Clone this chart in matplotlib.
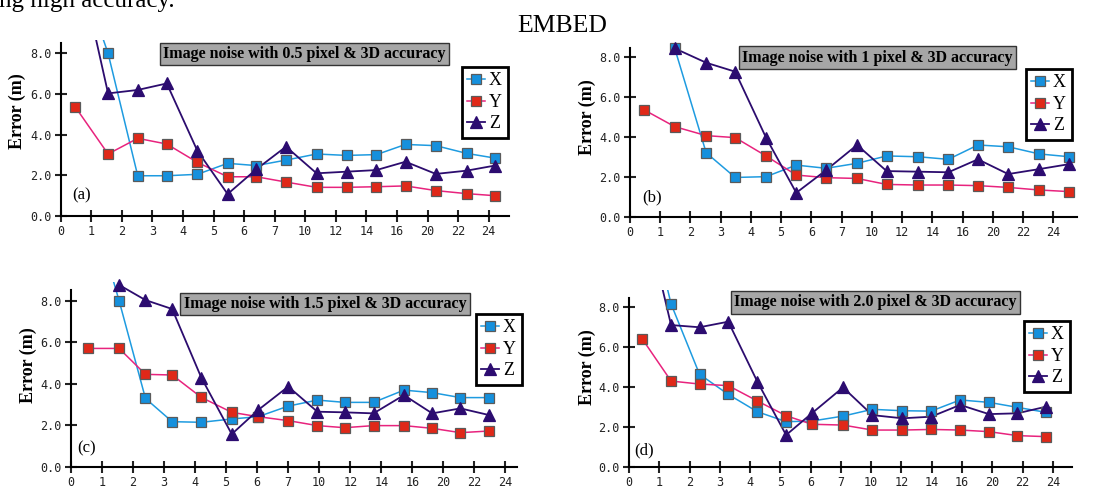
import numpy as np
import matplotlib

matplotlib.use("Agg")
import matplotlib.pyplot as plt
from matplotlib.lines import Line2D


W, H = 1111, 488
SERIF = "Liberation Serif"
MONO = "DejaVu Sans Mono"

nan = np.nan

X_LABELS = ["0", "1", "2", "3", "4", "5", "6", "7", "10", "12", "14", "16", "20", "22", "24"]
Y_TICKS = [0, 2, 4, 6, 8]
SERIES = ["X", "Y", "Z"]

# (a) 0.5 pixel
POS_A = [0.47, 1.55, 2.52, 3.47, 4.47, 5.46, 6.4, 7.37, 8.37, 9.35, 10.33, 11.28, 12.27, 13.28, 14.2]
X_A = [12.7, 8.0, 1.98, 1.98, 2.05, 2.59, 2.48, 2.75, 3.05, 2.98, 3.02, 3.52, 3.46, 3.08, 2.85]
Y_A = [5.38, 3.05, 3.82, 3.54, 2.64, 1.93, 1.93, 1.67, 1.41, 1.41, 1.44, 1.48, 1.25, 1.10, 1.00]
Z_A = [13.3, 6.03, 6.2, 6.52, 3.21, 1.08, 2.30, 3.41, 2.10, 2.18, 2.26, 2.67, 2.07, 2.23, 2.48]

# (b) 1 pixel
POS_B = [0.47, 1.48, 2.52, 3.48, 4.5, 5.5, 6.49, 7.51, 8.49, 9.53, 10.53, 11.51, 12.51, 13.54, 14.53]
X_B = [nan, 8.45, 3.21, 1.97, 2.01, 2.59, 2.43, 2.68, 3.05, 3.01, 2.88, 3.60, 3.51, 3.15, 3.01]
Y_B = [5.36, 4.52, 4.07, 3.97, 3.05, 2.09, 1.96, 1.92, 1.62, 1.59, 1.59, 1.56, 1.47, 1.34, 1.26]
Z_B = [nan, 8.45, 7.73, 7.28, 3.97, 1.20, 2.34, 3.60, 2.29, 2.26, 2.23, 2.88, 2.14, 2.39, 2.64]

# (c) 1.5 pixel
POS_C = [0.56, 1.55, 2.4, 3.26, 4.2, 5.18, 6.03, 7.0, 7.94, 8.82, 9.75, 10.73, 11.64, 12.55, 13.47]
X_C = [13.1, 8.0, 3.29, 2.17, 2.14, 2.30, 2.41, 2.92, 3.21, 3.10, 3.10, 3.69, 3.57, 3.33, 3.33]
Y_C = [5.70, 5.70, 4.45, 4.42, 3.34, 2.62, 2.41, 2.22, 1.98, 1.88, 1.98, 1.98, 1.85, 1.64, 1.72]
Z_C = [nan, 8.76, 8.03, 7.60, 4.29, 1.57, 2.73, 3.86, 2.65, 2.62, 2.57, 3.45, 2.57, 2.81, 2.49]

# (d) 2.0 pixel
POS_D = [0.44, 1.39, 2.33, 3.28, 4.24, 5.19, 6.04, 7.07, 8.04, 9.03, 9.98, 10.94, 11.89, 12.83, 13.77]
X_D = [14.2, 8.17, 4.64, 3.63, 2.76, 2.26, 2.29, 2.54, 2.88, 2.81, 2.79, 3.35, 3.23, 2.98, 2.73]
Y_D = [6.41, 4.30, 4.15, 4.07, 3.30, 2.56, 2.13, 2.09, 1.84, 1.84, 1.87, 1.84, 1.76, 1.56, 1.51]
Z_D = [13.2, 7.11, 7.0, 7.28, 4.27, 1.59, 2.68, 3.98, 2.59, 2.43, 2.51, 3.10, 2.64, 2.68, 3.01]

TITLES = [
    "Image noise with 0.5 pixel & 3D accuracy",
    "Image noise with 1 pixel & 3D accuracy",
    "Image noise with 1.5 pixel & 3D accuracy",
    "Image noise with 2.0 pixel & 3D accuracy",
]
LETTERS = ["(a)", "(b)", "(c)", "(d)"]

STYLES = {
    "X": dict(color="#1e9be0", marker="s", mfc="#1590dd", mec="#5a5a5a", ms=6.5, lw=1.1),
    "Y": dict(color="#e8237d", marker="s", mfc="#e02818", mec="#5a5a5a", ms=6.5, lw=1.1),
    "Z": dict(color="#2c0c6e", marker="^", mfc="#2c0c70", mec="#2c0c70", ms=9, lw=1.3),
}

# pixel layout: left, bottom, px per x unit, px per y unit, xmax, clip top, spine top
LAYOUT = [
    dict(geo=(60.7, 216, 30.57, 20.33, 14.65, 8.65, 8.5), title=(304.5, 54), letter=(82, 195),
         ylabel=(17, 111), legend=(462, 67)),
    dict(geo=(630, 216.7, 30.23, 19.92, 14.8, 8.6, 8.47), title=(877.5, 57.5), letter=(652, 197),
         ylabel=(587, 117), legend=(1026, 69)),
    dict(geo=(71, 466.7, 31.03, 20.75, 14.37, 8.9, 8.5), title=(325, 304), letter=(87, 448),
         ylabel=(28, 365), legend=(476, 314)),
    dict(geo=(629, 466.7, 30.27, 19.92, 14.63, 8.87, 8.45), title=(875.5, 302.5), letter=(644, 450),
         ylabel=(587, 367), legend=(1024, 321)),
]


def px(x, y):
    return x / W, 1 - y / H


def draw_panel(fig, layout, pos, data, title, letter):
    left, bottom, sx, sy, xmax, ytop, spine_top = layout["geo"]
    ax = fig.add_axes([left / W, 1 - bottom / H, xmax * sx / W, ytop * sy / H])
    ax.set_xlim(0, xmax)
    ax.set_ylim(0, ytop)
    pos = np.array(pos)
    handles = []
    for name, vals in zip(SERIES, data):
        st = STYLES[name]
        v = np.array(vals, dtype=float)
        ax.plot(pos, v, color=st["color"], lw=st["lw"], zorder=2)
        keep = v <= ytop + 0.3
        ax.plot(pos[keep], v[keep], ls="none", marker=st["marker"], ms=st["ms"],
                mfc=st["mfc"], mec=st["mec"], mew=0.9, clip_on=False, zorder=3)
        handles.append(Line2D([], [], color=st["color"], lw=st["lw"], marker=st["marker"],
                              ms=st["ms"], mfc=st["mfc"], mec=st["mec"], mew=0.9))

    for side in ["top", "right"]:
        ax.spines[side].set_visible(False)
    for side in ["left", "bottom"]:
        ax.spines[side].set_linewidth(1.5)
    ax.spines["left"].set_bounds(0, spine_top)
    ax.set_xticks(range(len(X_LABELS)))
    ax.set_xticklabels(X_LABELS)
    ax.set_yticks(Y_TICKS)
    ax.set_yticklabels([f"{v:.1f}" for v in Y_TICKS])
    ax.tick_params(direction="inout", length=9, width=1.5, labelsize=8.5, pad=2, colors="#222222")
    ax.patch.set_alpha(0)

    leg = ax.legend(handles, SERIES, loc="upper left", bbox_to_anchor=px(*layout["legend"]),
                    bbox_transform=fig.transFigure, prop={"family": SERIF, "size": 13},
                    frameon=True, fancybox=False, edgecolor="black", framealpha=1,
                    borderpad=0.3, labelspacing=0.25, handlelength=1.0, handletextpad=0.2,
                    borderaxespad=0)
    leg.get_frame().set_linewidth(2)

    tx, ty = px(*layout["title"])
    fig.text(tx, ty, title, ha="center", va="center", family=SERIF, weight="bold", fontsize=11.5,
             bbox=dict(boxstyle="square,pad=0.2", facecolor="#a6a6a6", edgecolor="#333333", lw=1))
    lx, ly = px(*layout["letter"])
    fig.text(lx, ly, letter, ha="center", va="center", family=SERIF, fontsize=12)
    yx, yy = px(*layout["ylabel"])
    fig.text(yx, yy, "Error (m)", rotation=90, ha="center", va="center", family=SERIF,
             weight="bold", fontsize=13)


def main():
    plt.rcParams["font.family"] = MONO
    fig = plt.figure(figsize=(W / 100, H / 100), dpi=100)
    fig.text(-8 / W, 1 - 7 / H, "ing high accuracy.", family=SERIF, fontsize=18,
             ha="left", va="baseline")
    fig.text(562 / W, 1 - 32 / H, "EMBED", family=SERIF, fontsize=18.5, ha="center", va="baseline")

    panels = [
        (POS_A, [X_A, Y_A, Z_A]),
        (POS_B, [X_B, Y_B, Z_B]),
        (POS_C, [X_C, Y_C, Z_C]),
        (POS_D, [X_D, Y_D, Z_D]),
    ]
    for layout, (pos, data), title, letter in zip(LAYOUT, panels, TITLES, LETTERS):
        draw_panel(fig, layout, pos, data, title, letter)

    fig.savefig("out.png", dpi=100)
    plt.close(fig)


if __name__ == "__main__":
    main()
